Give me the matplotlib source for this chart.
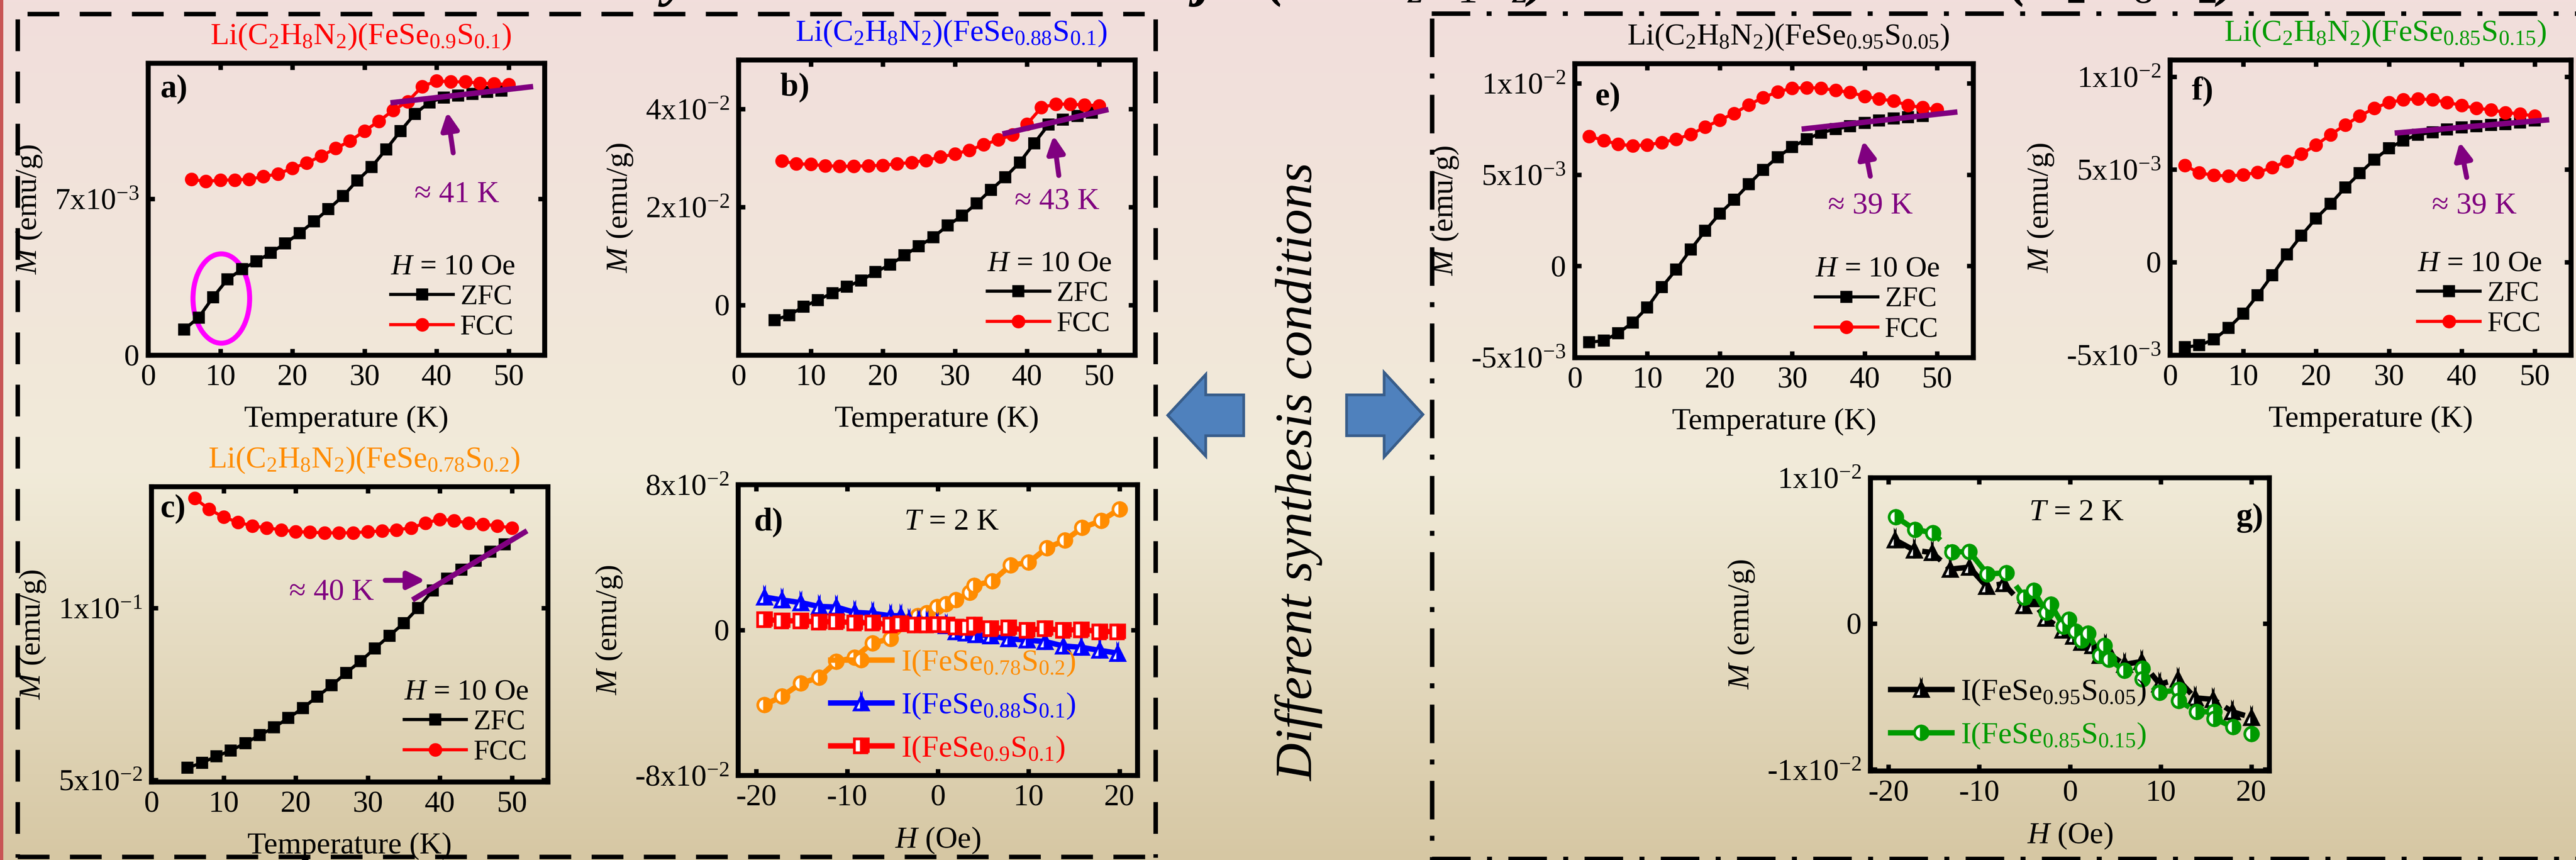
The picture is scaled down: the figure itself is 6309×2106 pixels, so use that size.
import numpy as np
import matplotlib.pyplot as plt
from matplotlib.lines import Line2D
from matplotlib.patches import Polygon, Ellipse, Rectangle
from matplotlib.ticker import NullLocator

plt.rcParams['font.family'] = ['Liberation Serif', 'DejaVu Serif']
plt.rcParams['mathtext.fontset'] = 'custom'
plt.rcParams['mathtext.rm'] = 'Liberation Serif'
plt.rcParams['mathtext.it'] = 'Liberation Serif:italic'
plt.rcParams['mathtext.bf'] = 'Liberation Serif:bold'
plt.rcParams['axes.unicode_minus'] = False

# ---------------- data (M in units noted per panel) ----------------
# a) FeSe0.9S0.1, M x1e-3
a_zfc_T = [5, 7, 9, 11, 13, 15, 17, 19, 21, 23, 25, 27, 29, 31, 33, 35, 37, 39, 41, 43, 45, 47, 49]
a_zfc_M = [1.16, 1.69, 2.60, 3.40, 3.85, 4.21, 4.58, 5.01, 5.47, 5.99, 6.54, 7.12, 7.82, 8.43,
           9.22, 10.04, 10.81, 11.32, 11.54, 11.63, 11.70, 11.79, 11.85]
a_fcc_T = [6, 8, 10, 12, 14, 16, 18, 20, 22, 24, 26, 28, 30, 32, 34, 36, 38, 40, 42, 44, 46, 48, 50]
a_fcc_M = [7.88, 7.78, 7.84, 7.85, 7.88, 8.00, 8.12, 8.37, 8.61, 8.92, 9.26, 9.59, 10.04, 10.48,
           10.97, 11.36, 12.03, 12.28, 12.24, 12.24, 12.18, 12.15, 12.12]

# b) FeSe0.88S0.1, M x1e-2
b_zfc_T = [5, 7, 9, 11, 13, 15, 17, 19, 21, 23, 25, 27, 29, 31, 33, 35, 37, 39, 41, 43, 45, 47, 49]
b_zfc_M = [-0.31, -0.21, -0.04, 0.10, 0.24, 0.37, 0.50, 0.67, 0.82, 1.01, 1.20, 1.38, 1.62, 1.82,
           2.07, 2.35, 2.61, 2.91, 3.30, 3.68, 3.78, 3.86, 3.92]
b_fcc_T = [6, 8, 10, 12, 14, 16, 18, 20, 22, 24, 26, 28, 30, 32, 34, 36, 38, 40, 42, 44, 46, 48, 50]
b_fcc_M = [2.94, 2.88, 2.87, 2.84, 2.83, 2.83, 2.84, 2.85, 2.88, 2.91, 2.95, 3.02, 3.08, 3.16,
           3.27, 3.37, 3.47, 3.69, 4.03, 4.10, 4.10, 4.08, 4.07]

# c) FeSe0.78S0.2, M in emu/g (log axis)
c_zfc_T = [5, 7, 9, 11, 13, 15, 17, 19, 21, 23, 25, 27, 29, 31, 33, 35, 37, 39, 41, 43, 45, 47, 49]
c_zfc_M = [0.0525, 0.0536, 0.0550, 0.0563, 0.0580, 0.0599, 0.0618, 0.0642, 0.0668, 0.0700, 0.0732,
           0.0770, 0.0807, 0.0850, 0.0894, 0.0941, 0.1000, 0.1073, 0.1125, 0.1167, 0.1211, 0.1254, 0.1293]
c_fcc_T = [6, 8, 10, 12, 14, 16, 18, 20, 22, 24, 26, 28, 30, 32, 34, 36, 38, 40, 42, 44, 46, 48, 50]
c_fcc_M = [0.1556, 0.1489, 0.1442, 0.1413, 0.1392, 0.1381, 0.1370, 0.1360, 0.1357, 0.1354, 0.1354,
           0.1354, 0.1360, 0.1364, 0.1370, 0.1381, 0.1408, 0.1430, 0.1422, 0.1408, 0.1402, 0.1392, 0.1381]

# d) M(H) at 2 K, M x1e-2
d_o_H = [-19.1, -17.2, -15.1, -13.1, -11.2, -9.2, -7.2, -5.2, -3.2, -2.2, -1.2, -0.1, 0.9, 2.0,
         3.5, 4.0, 6.0, 8.0, 10.0, 12.0, 14.0, 15.9, 18.0, 20.0]
d_o_M = [-4.12, -3.65, -2.93, -2.61, -1.74, -1.51, -0.71, -0.48, 0.48, 0.79, 0.95, 1.27, 1.43, 1.66,
         2.06, 2.46, 2.69, 3.57, 3.72, 4.52, 4.94, 5.63, 6.02, 6.66]
d_b_H = [-19.1, -17.2, -15.1, -13.1, -11.2, -9.2, -7.2, -5.2, -4.1, -3.2, -2.1, -1.2, -0.1, 0.9,
         2.0, 3.1, 4.2, 5.8, 7.8, 9.8, 11.8, 13.8, 15.8, 17.8, 19.8]
d_b_M = [1.82, 1.66, 1.51, 1.30, 1.27, 0.98, 0.92, 0.79, 0.79, 0.55, 0.48, 0.40, 0.32, 0.24,
         -0.08, -0.16, -0.24, -0.32, -0.48, -0.55, -0.63, -0.87, -0.95, -1.11, -1.27]
d_r_H = [-19.1, -17.2, -15.1, -13.1, -11.2, -9.2, -7.2, -5.2, -4.1, -2.5, -1.2, 0.0, 1.0, 2.0,
         3.3, 4.0, 5.8, 7.8, 9.8, 11.8, 13.8, 15.8, 17.8, 19.8]
d_r_M = [0.59, 0.51, 0.51, 0.44, 0.48, 0.40, 0.40, 0.29, 0.35, 0.29, 0.29, 0.32, 0.29, 0.19,
         0.16, 0.29, 0.08, 0.13, 0.00, 0.08, 0.00, 0.03, -0.08, -0.08]

# e) FeSe0.95S0.05, M x1e-3
e_zfc_T = [2, 4, 6, 8, 10, 12, 14, 16, 18, 20, 22, 24, 26, 28, 30, 32, 34, 36, 38, 40, 42, 44, 46, 48]
e_zfc_M = [-4.18, -4.08, -3.67, -3.09, -2.27, -1.16, -0.19, 0.91, 1.93, 2.87, 3.62, 4.47, 5.27, 5.96,
           6.52, 6.94, 7.30, 7.49, 7.65, 7.84, 7.96, 8.07, 8.15, 8.20]
e_fcc_T = [2, 4, 6, 8, 10, 12, 14, 16, 18, 20, 22, 24, 26, 28, 30, 32, 34, 36, 38, 40, 42, 44, 46, 48, 50]
e_fcc_M = [7.10, 6.87, 6.66, 6.58, 6.63, 6.76, 6.94, 7.21, 7.60, 7.99, 8.35, 8.82, 9.22, 9.53,
           9.73, 9.76, 9.73, 9.61, 9.50, 9.29, 9.14, 9.03, 8.79, 8.67, 8.56]

# f) FeSe0.85S0.15, M x1e-3
f_zfc_T = [2, 4, 6, 8, 10, 12, 14, 16, 18, 20, 22, 24, 26, 28, 30, 32, 34, 36, 38, 40, 42, 44, 46, 48, 50]
f_zfc_M = [-4.59, -4.48, -4.17, -3.55, -2.78, -1.78, -0.70, 0.42, 1.44, 2.36, 3.14, 4.02, 4.79, 5.53,
           6.14, 6.57, 6.88, 7.00, 7.16, 7.26, 7.34, 7.39, 7.45, 7.53, 7.65]
f_fcc_T = [2, 4, 6, 8, 10, 12, 14, 16, 18, 20, 22, 24, 26, 28, 30, 32, 34, 36, 38, 40, 42, 44, 46, 48, 50]
f_fcc_M = [5.21, 4.82, 4.68, 4.65, 4.71, 4.84, 5.10, 5.44, 5.83, 6.31, 6.88, 7.39, 7.88, 8.30,
           8.61, 8.76, 8.81, 8.76, 8.62, 8.45, 8.30, 8.22, 8.07, 7.99, 7.88]

# g) M(H) at 2 K, M x1e-3
g_k_H = [-19.3, -17.2, -15.2, -13.2, -11.1, -9.2, -7.3, -5.1, -4.3, -2.7, -0.8, 0.4, 1.3, 2.5,
         3.3, 3.9, 4.5, 6.0, 7.9, 9.9, 11.9, 13.8, 15.8, 17.9, 20.0]
g_k_M = [5.75, 5.04, 4.87, 3.74, 3.87, 2.55, 2.74, 1.23, 1.70, 0.38, -0.43, -0.85, -1.28, -1.51,
         -2.17, -1.51, -2.17, -2.79, -2.60, -4.15, -3.81, -5.09, -5.19, -6.04, -6.42]
g_g_H = [-19.2, -17.1, -15.1, -13.0, -11.1, -9.1, -7.0, -5.0, -4.0, -2.6, -2.1, -0.7, -0.1, 0.6,
         1.3, 2.0, 3.3, 3.8, 4.3, 6.0, 8.0, 8.0, 9.9, 12.0, 12.0, 14.0, 15.9, 15.9, 18.0, 20.0]
g_g_M = [7.32, 6.45, 6.23, 4.91, 4.94, 3.40, 3.49, 1.79, 2.26, 0.75, 1.32, -0.19, 0.28, -0.53,
         -1.13, -0.66, -2.17, -1.51, -2.45, -3.21, -3.06, -3.81, -4.72, -4.53, -5.28, -6.04,
         -6.04, -6.51, -7.08, -7.55]

titles = {
    'a': 'Li(C$_2$H$_8$N$_2$)(FeSe$_{0.9}$S$_{0.1}$)',
    'b': 'Li(C$_2$H$_8$N$_2$)(FeSe$_{0.88}$S$_{0.1}$)',
    'c': 'Li(C$_2$H$_8$N$_2$)(FeSe$_{0.78}$S$_{0.2}$)',
    'e': 'Li(C$_2$H$_8$N$_2$)(FeSe$_{0.95}$S$_{0.05}$)',
    'f': 'Li(C$_2$H$_8$N$_2$)(FeSe$_{0.85}$S$_{0.15}$)',
}

RED, BLUE, ORANGE, GREEN, PURPLE = '#ff0000', '#0000ff', '#ff8c00', '#009a00', '#800080'
FS = 13.5

# ---------------- figure ----------------
W, H = 6309, 2106
DPI = 400
fig = plt.figure(figsize=(W / DPI, H / DPI), dpi=DPI)

# background gradient
bg = fig.add_axes([0, 0, 1, 1], zorder=-10)
stops = np.array([0.0, 0.55, 1.0])
cols = np.array([[242, 222, 220], [241, 235, 217], [214, 199, 163]]) / 255.0
yy = np.linspace(0, 1, 400)
grad = np.stack([np.interp(yy, stops, cols[:, i]) for i in range(3)], axis=1)
bg.imshow(grad[:, None, :], aspect='auto', extent=[0, 1, 0, 1], origin='upper')
bg.set_xlim(0, 1); bg.set_ylim(0, 1)
bg.axis('off')
bg.add_patch(Rectangle((0, 0), 8 / W, 1, color='#c85555', lw=0))

# slide heading cut off by the top edge: only the descenders remain visible
head = dict(fontsize=25.5, style='italic', fontweight='bold', va='baseline', ha='left')
fig.text(1625 / W, 1 + 13 / H, 'y', **head)
fig.text(2930 / W, 1 + 13 / H, 'j', **head)
fig.text(3100 / W, 1 + 13 / H, '(FeSe$_z$S$_{1-z}$)', **head)
fig.text(4918 / W, 1 + 13 / H, '(C$_2$H$_8$N$_2$)', **head)


def fig_line(xs, ys, **kw):
    fig.add_artist(Line2D([x / W for x in xs], [1 - y / H for y in ys],
                          transform=fig.transFigure, color='black', solid_capstyle='butt',
                          dash_capstyle='butt', **kw))


dash = dict(lw=2.0, linestyle=(0, (7, 4.5)))
fig_line([67, 2803], [34, 34], **dash)
fig_line([43, 43], [47, 2100], **dash)
fig_line([2830, 2830], [47, 2100], **dash)
fig_line([43, 2830], [2098, 2098], **dash)
dashdot = dict(lw=2.0, linestyle=(0, (8.5, 3.6, 1.1, 3.6)))
fig_line([3506, 6309], [33, 33], **dashdot)
fig_line([3507, 3507], [45, 2106], **dashdot)
fig_line([3507, 6309], [2103, 2103], **dashdot)


def fig_poly(pts):
    fig.add_artist(Polygon([(x / W, 1 - y / H) for x, y in pts], closed=True,
                           transform=fig.transFigure, facecolor='#4f81bd',
                           edgecolor='#385d8a', lw=1.2))


fig_poly([(2860, 1017), (2953, 917), (2953, 967), (3046, 967), (3046, 1067), (2953, 1067), (2953, 1117)])
fig_poly([(3485, 1015), (3390, 912), (3390, 967), (3298, 967), (3298, 1067), (3390, 1067), (3390, 1119)])
fig.text(3182 / W, 1 - 1156 / H, 'Different synthesis conditions', rotation=90,
         ha='center', va='center', style='italic', fontsize=23)


def make_axes(x0, y0, x1, y1):
    return fig.add_axes([x0 / W, 1 - y1 / H, (x1 - x0) / W, (y1 - y0) / H], facecolor='none')


def style(ax, xlim, ylim, xticks, xlabels, yticks, ylabels, xlabel):
    ax.set_xlim(xlim)
    ax.set_ylim(ylim)
    ax.set_xticks(xticks)
    ax.set_xticklabels(xlabels)
    ax.set_yticks(yticks)
    ax.set_yticklabels(ylabels)
    ax.yaxis.set_minor_locator(NullLocator())
    ax.tick_params(which='both', direction='in', top=True, right=True, length=2.8, width=2,
                   labelsize=FS, pad=4)
    for s in ax.spines.values():
        s.set_linewidth(2.2)
    ax.set_xlabel(xlabel, fontsize=FS, labelpad=6)
    ax.set_ylabel('$M$ (emu/g)', fontsize=FS, labelpad=5)


def title(ax, key, color):
    ax.text(0.536, 1.065, titles[key], transform=ax.transAxes, ha='center', va='baseline',
            color=color, fontsize=FS)


def zfc_fcc(ax, tz, mz, tf, mf, scale, anchor):
    ax.plot(tz, np.array(mz) * scale, '-s', color='black', lw=1.4, ms=4.2, label='ZFC')
    ax.plot(tf, np.array(mf) * scale, '-o', color=RED, lw=1.4, ms=5, label='FCC')
    ax.legend(loc='lower right', bbox_to_anchor=anchor, frameon=False, fontsize=FS - 1,
              title='$H$ = 10 Oe', title_fontsize=FS - 0.5, alignment='left',
              handlelength=2.2, handletextpad=0.25, labelspacing=0.15, borderpad=0,
              borderaxespad=0)


def onset(ax, line, arrow, label_xy, text):
    ax.plot(line[0], line[1], color=PURPLE, lw=2.4, solid_capstyle='butt')
    ax.annotate('', xy=arrow[1], xytext=arrow[0],
                arrowprops=dict(arrowstyle='-|>', color=PURPLE, lw=2.2, mutation_scale=16))
    ax.text(label_xy[0], label_xy[1], text, color=PURPLE, ha='center', va='center', fontsize=FS)


Tticks = [0, 10, 20, 30, 40, 50]
Tlabels = ['0', '10', '20', '30', '40', '50']

# ---- a ----
ax = make_axes(363, 155, 1334, 870)
zfc_fcc(ax, a_zfc_T, a_zfc_M, a_fcc_T, a_fcc_M, 1e-3, (0.925, 0.05))
onset(ax, ([33.6, 53.4], [11.30e-3, 12.03e-3]), ((42.4, 8.86e-3), (41.4, 11.09e-3)),
      (42.8, 7.18e-3), '≈ 41 K')
ax.add_patch(Ellipse((10.14, 2.54e-3), 7.86, 4.0e-3, fill=False, edgecolor='#ff00ff', lw=2.2))
style(ax, (0, 55), (0, 13.07e-3), Tticks, Tlabels, [0, 7e-3], ['0', '7x10$^{-3}$'], 'Temperature (K)')
ax.text(0.03, 0.91, 'a)', transform=ax.transAxes, fontsize=FS + 1, fontweight='bold', va='center')
title(ax, 'a', RED)

# ---- b ----
ax = make_axes(1809, 147, 2780, 870)
zfc_fcc(ax, b_zfc_T, b_zfc_M, b_fcc_T, b_fcc_M, 1e-2, (0.94, 0.06))
onset(ax, ([36.6, 51.3], [3.49e-2, 3.99e-2]), ((44.5, 2.55e-2), (43.6, 3.55e-2)),
      (44.2, 2.10e-2), '≈ 43 K')
style(ax, (0, 55), (-1.03e-2, 5.0e-2), Tticks, Tlabels, [0, 2e-2, 4e-2],
      ['0', '2x10$^{-2}$', '4x10$^{-2}$'], 'Temperature (K)')
ax.text(0.105, 0.907, 'b)', transform=ax.transAxes, fontsize=FS + 1, fontweight='bold', va='center')
title(ax, 'b', BLUE)

# ---- c ----
ax = make_axes(371, 1192, 1342, 1915)
ax.set_yscale('log')
zfc_fcc(ax, c_zfc_T, c_zfc_M, c_fcc_T, c_fcc_M, 1.0, (0.95, 0.055))
onset(ax, ([36.2, 52.1], [0.1033, 0.1365]), ((31.8, 0.1118), (38.6, 0.1118)),
      (25.0, 0.1063), '≈ 40 K')
style(ax, (0, 55), (0.0496, 0.163), Tticks, Tlabels, [0.05, 0.1],
      ['5x10$^{-2}$', '1x10$^{-1}$'], 'Temperature (K)')
ax.text(0.022, 0.924, 'c)', transform=ax.transAxes, fontsize=FS + 1, fontweight='bold', va='center')
title(ax, 'c', ORANGE)

# ---- d ----
ax = make_axes(1808, 1187, 2786, 1899)
hkw = dict(lw=2.4, ms=6, fillstyle='right', markerfacecoloralt='white', mew=1.2)
ax.plot(d_o_H, np.array(d_o_M) * 1e-2, '-o', color=ORANGE, label='I(FeSe$_{0.78}$S$_{0.2}$)', **hkw)
ax.plot(d_b_H, np.array(d_b_M) * 1e-2, '-^', color=BLUE, label='I(FeSe$_{0.88}$S$_{0.1}$)', **hkw)
ax.plot(d_r_H, np.array(d_r_M) * 1e-2, '-s', color=RED, label='I(FeSe$_{0.9}$S$_{0.1}$)', **hkw)
style(ax, (-22, 22), (-0.08, 0.08), [-20, -10, 0, 10, 20], ['-20', '-10', '0', '10', '20'],
      [-0.08, 0, 0.08], ['-8x10$^{-2}$', '0', '8x10$^{-2}$'], '$H$ (Oe)')
leg = ax.legend(loc='lower right', bbox_to_anchor=(0.845, 0.04), frameon=False, fontsize=FS,
                handlelength=2.0, handletextpad=0.3, labelspacing=0.45, borderpad=0, borderaxespad=0)
for t, c in zip(leg.get_texts(), [ORANGE, BLUE, RED]):
    t.set_color(c)
ax.text(0.04, 0.87, 'd)', transform=ax.transAxes, fontsize=FS + 1, fontweight='bold', va='center')
ax.text(0.534, 0.87, '$T$ = 2 K', transform=ax.transAxes, fontsize=FS, ha='center', va='center')

# ---- e ----
ax = make_axes(3857, 156, 4833, 876)
zfc_fcc(ax, e_zfc_T, e_zfc_M, e_fcc_T, e_fcc_M, 1e-3, (0.915, 0.05))
onset(ax, ([31.3, 52.8], [7.49e-3, 8.43e-3]), ((40.9, 4.67e-3), (39.7, 7.10e-3)),
      (40.8, 3.26e-3), '≈ 39 K')
style(ax, (0, 55), (-5.02e-3, 11.07e-3), Tticks, Tlabels, [-5e-3, 0, 5e-3, 1e-2],
      ['-5x10$^{-3}$', '0', '5x10$^{-3}$', '1x10$^{-2}$'], 'Temperature (K)')
ax.text(0.05, 0.886, 'e)', transform=ax.transAxes, fontsize=FS + 1, fontweight='bold', va='center')
title(ax, 'e', 'black')

# ---- f ----
ax = make_axes(5315, 147, 6297, 870)
zfc_fcc(ax, f_zfc_T, f_zfc_M, f_fcc_T, f_fcc_M, 1e-3, (0.927, 0.06))
onset(ax, ([30.8, 52.0], [6.96e-3, 7.68e-3]), ((40.8, 4.33e-3), (39.6, 6.72e-3)),
      (41.7, 3.01e-3), '≈ 39 K')
style(ax, (0, 55), (-5.02e-3, 10.9e-3), Tticks, Tlabels, [-5e-3, 0, 5e-3, 1e-2],
      ['-5x10$^{-3}$', '0', '5x10$^{-3}$', '1x10$^{-2}$'], 'Temperature (K)')
ax.text(0.053, 0.893, 'f)', transform=ax.transAxes, fontsize=FS + 1, fontweight='bold', va='center')
title(ax, 'f', GREEN)

# ---- g ----
ax = make_axes(4581, 1170, 5558, 1888)
gkw = dict(lw=2.4, ms=6, fillstyle='right', markerfacecoloralt='white', mew=1.2, dashes=(4, 1.5))
ax.plot(g_k_H, np.array(g_k_M) * 1e-3, '--^', color='black', label='I(FeSe$_{0.95}$S$_{0.05}$)', **gkw)
ax.plot(g_g_H, np.array(g_g_M) * 1e-3, '--o', color=GREEN, label='I(FeSe$_{0.85}$S$_{0.15}$)', **gkw)
style(ax, (-22, 22), (-0.0101, 0.01), [-20, -10, 0, 10, 20], ['-20', '-10', '0', '10', '20'],
      [-0.01, 0, 0.01], ['-1x10$^{-2}$', '0', '1x10$^{-2}$'], '$H$ (Oe)')
hl = [Line2D([], [], color='black', lw=2.4, marker='^', ms=6, fillstyle='right',
             markerfacecoloralt='white', mew=1.2),
      Line2D([], [], color=GREEN, lw=2.4, marker='o', ms=6, fillstyle='right',
             markerfacecoloralt='white', mew=1.2)]
leg = ax.legend(hl, ['I(FeSe$_{0.95}$S$_{0.05}$)', 'I(FeSe$_{0.85}$S$_{0.15}$)'], loc='lower left',
                bbox_to_anchor=(0.05, 0.07), frameon=False, fontsize=FS, handlelength=2.0,
                handletextpad=0.3, labelspacing=0.45, borderpad=0, borderaxespad=0)
leg.get_texts()[1].set_color(GREEN)
ax.text(0.516, 0.88, '$T$ = 2 K', transform=ax.transAxes, fontsize=FS, ha='center', va='center')
ax.text(0.917, 0.862, 'g)', transform=ax.transAxes, fontsize=FS + 1, fontweight='bold', va='center')

fig.savefig('out.png', dpi=DPI)
